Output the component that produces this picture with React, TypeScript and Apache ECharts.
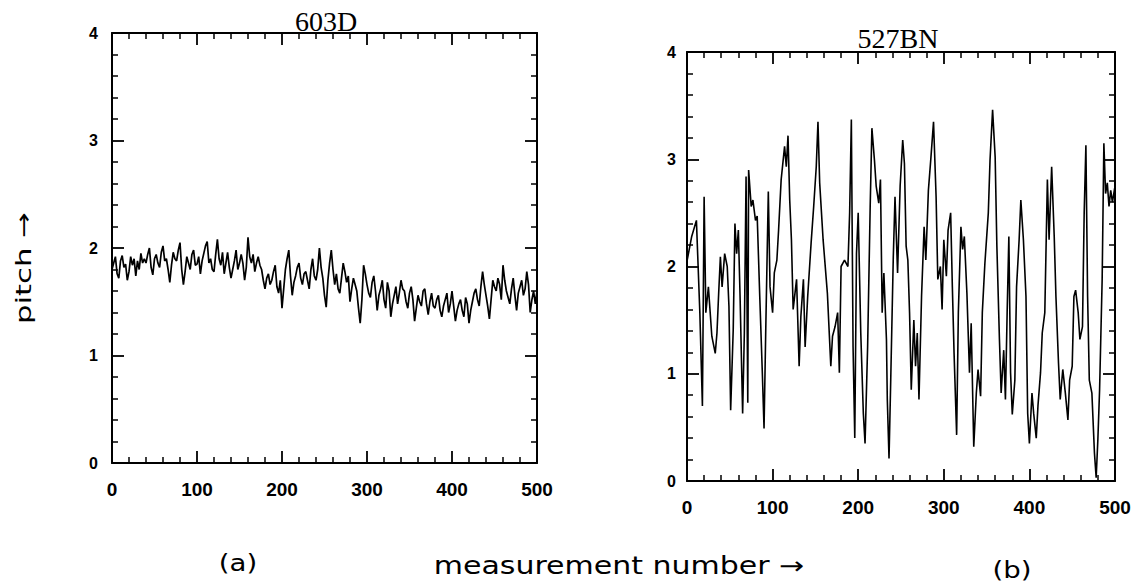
import React, { useEffect, useRef } from "react";
import * as echarts from "echarts";

// ---- Data ----
const leftTitle = "603D";
const rightTitle = "527BN";
const xTickMax = 500;
const yTickMax = 4;

// Panel (a) 603D: pitch sampled every 2nd measurement (0..500)
const leftStep = 2;
const leftPitch = [
  1.80, 1.86, 1.92, 1.76, 1.72, 1.88, 1.93, 1.82, 1.85, 1.70,
  1.78, 1.92, 1.84, 1.90, 1.74, 1.88, 1.80, 1.95, 1.86, 1.90,
  1.86, 1.94, 2.00, 1.82, 1.75, 1.90, 1.94, 1.86, 1.82, 1.96,
  2.02, 1.88, 1.90, 1.80, 1.68, 1.84, 1.96, 1.90, 1.88, 1.98,
  2.05, 1.80, 1.66, 1.78, 1.92, 1.86, 1.80, 1.94, 1.98, 1.84,
  1.85, 1.92, 1.76, 1.88, 1.95, 2.02, 2.06, 1.86, 1.90, 1.80,
  1.78, 1.94, 2.08, 1.90, 1.84, 1.96, 1.76, 1.86, 1.96, 1.82,
  1.72, 1.80, 1.88, 1.98, 1.80, 1.86, 1.94, 1.86, 1.70, 1.82,
  2.10, 1.92, 1.86, 1.94, 1.78, 1.86, 1.92, 1.84, 1.80, 1.70,
  1.62, 1.72, 1.76, 1.66, 1.70, 1.78, 1.84, 1.64, 1.58, 1.70,
  1.44, 1.62, 1.80, 1.90, 1.98, 1.74, 1.56, 1.68, 1.74, 1.82,
  1.86, 1.72, 1.66, 1.76, 1.78, 1.70, 1.62, 1.80, 1.90, 1.74,
  1.70, 1.80, 2.00, 1.82, 1.72, 1.56, 1.45, 1.70, 1.86, 1.98,
  1.80, 1.66, 1.76, 1.62, 1.58, 1.72, 1.86, 1.78, 1.68, 1.74,
  1.50, 1.62, 1.72, 1.66, 1.60, 1.44, 1.30, 1.52, 1.84, 1.76,
  1.66, 1.58, 1.54, 1.68, 1.74, 1.60, 1.42, 1.56, 1.62, 1.70,
  1.52, 1.44, 1.68, 1.60, 1.36, 1.48, 1.56, 1.64, 1.48, 1.58,
  1.70, 1.62, 1.60, 1.50, 1.44, 1.58, 1.64, 1.52, 1.32, 1.44,
  1.56, 1.50, 1.46, 1.60, 1.62, 1.48, 1.38, 1.50, 1.58, 1.46,
  1.44, 1.52, 1.56, 1.42, 1.36, 1.46, 1.52, 1.58, 1.40, 1.48,
  1.60, 1.46, 1.32, 1.42, 1.48, 1.52, 1.42, 1.36, 1.54, 1.48,
  1.30, 1.42, 1.50, 1.58, 1.62, 1.52, 1.46, 1.64, 1.78, 1.66,
  1.56, 1.46, 1.34, 1.52, 1.70, 1.64, 1.60, 1.72, 1.66, 1.52,
  1.84, 1.70, 1.60, 1.54, 1.48, 1.62, 1.72, 1.56, 1.42, 1.58,
  1.64, 1.70, 1.56, 1.62, 1.78, 1.66, 1.40, 1.52, 1.60, 1.48,
  1.60,
];

// Panel (b) 527BN: measurement numbers and pitch values
const rightIndex = [
  0, 5.5, 11, 15, 18, 20, 22, 25, 29, 33, 35, 37, 39, 41, 44, 47, 49, 51, 54, 56,
  58, 60, 62, 65, 67, 69, 71, 72, 75, 77, 80, 82, 85, 88, 90, 92, 95, 97, 100, 102,
  105, 107, 110, 114, 116, 118, 120, 122, 124, 128, 131, 133, 136, 138, 141, 145, 148, 151, 153, 155,
  159, 164, 168, 170, 173, 176, 178, 180, 184, 188, 190, 192, 194, 196, 198, 200, 203, 206, 208, 211,
  214, 216, 219, 221, 224, 226, 228, 230, 233, 234, 236, 238, 241, 243, 246, 249, 252, 254, 256, 258,
  260, 262, 265, 267, 269, 271, 274, 277, 279, 282, 285, 288, 291, 293, 296, 298, 300, 303, 305, 308,
  310, 312, 315, 317, 320, 322, 324, 327, 330, 332, 335, 338, 340, 343, 345, 348, 352, 354, 357, 360,
  362, 365, 367, 370, 372, 374, 376, 378, 380, 383, 385, 388, 390, 393, 396, 398, 400, 403, 405, 408,
  410, 413, 415, 418, 421, 423, 426, 429, 431, 434, 436, 439, 442, 445, 447, 450, 452, 454, 457, 459,
  462, 464, 466, 468, 470, 473, 476, 478, 480, 482, 485, 487, 489, 491, 493, 495, 497, 500,
];
const rightPitch = [
  2.05, 2.28, 2.43, 1.57, 0.70, 2.65, 1.57, 1.81, 1.35, 1.19, 1.38, 1.75, 2.09, 1.81, 2.12, 2.00, 1.63, 0.66, 1.41, 2.40,
  2.12, 2.34, 1.72, 0.63, 1.38, 2.84, 0.73, 2.90, 2.56, 2.62, 2.43, 2.47, 1.72, 1.01, 0.49, 1.41, 2.70, 1.81, 1.57, 1.94,
  2.06, 2.34, 2.81, 3.12, 2.93, 3.22, 2.62, 2.25, 1.60, 1.88, 1.07, 1.53, 1.88, 1.25, 1.72, 2.22, 2.56, 2.93, 3.35, 2.78,
  2.25, 1.75, 1.07, 1.35, 1.44, 1.57, 1.01, 2.00, 2.06, 2.00, 2.50, 3.37, 1.25, 0.40, 2.12, 2.50, 1.38, 0.63, 0.35, 1.25,
  2.56, 3.29, 2.99, 2.75, 2.59, 2.81, 1.57, 1.94, 1.32, 0.76, 0.21, 0.94, 2.09, 2.65, 1.94, 2.75, 3.18, 2.96, 2.19, 2.06,
  1.57, 0.85, 1.50, 1.07, 1.38, 0.76, 1.72, 2.37, 2.06, 2.71, 3.02, 3.35, 2.65, 1.88, 2.00, 1.60, 2.25, 1.91, 2.34, 2.50,
  1.81, 1.19, 0.43, 1.57, 2.37, 2.16, 2.28, 1.75, 1.01, 1.47, 0.32, 0.82, 1.04, 0.79, 1.57, 2.03, 2.50, 2.99, 3.46, 3.02,
  2.19, 1.32, 0.82, 1.22, 0.76, 1.57, 2.28, 1.01, 0.62, 0.94, 1.81, 2.25, 2.62, 2.25, 1.72, 0.63, 0.35, 0.82, 0.63, 0.40,
  0.70, 1.01, 1.38, 1.57, 2.81, 2.25, 2.93, 2.28, 1.72, 1.10, 0.76, 1.04, 0.82, 0.57, 0.94, 1.07, 1.72, 1.78, 1.57, 1.32,
  1.44, 2.50, 3.13, 1.72, 0.94, 0.82, 0.26, 0.03, 0.39, 0.85, 1.88, 3.15, 2.68, 2.78, 2.56, 2.71, 2.60, 2.75,
];

const BLACK = "#000";

function xAxis(gridIndex: number, position: "bottom" | "top", labels: boolean) {
  return {
    type: "value",
    gridIndex,
    position,
    min: 0,
    max: xTickMax,
    interval: 100,
    axisLine: { show: true, onZero: false, lineStyle: { color: BLACK, width: 2 } },
    axisTick: { show: true, inside: true, length: 12, lineStyle: { color: BLACK, width: 1.8 } },
    minorTick: { show: true, splitNumber: 5, length: 6, lineStyle: { color: BLACK, width: 1.5 } },
    splitLine: { show: false },
    minorSplitLine: { show: false },
    axisLabel: {
      show: labels,
      margin: 17,
      color: BLACK,
      fontFamily: "Liberation Sans",
      fontWeight: "bold",
      fontSize: 19,
    },
  };
}

function yAxis(gridIndex: number, position: "left" | "right", labels: boolean, margin: number) {
  return {
    type: "value",
    gridIndex,
    position,
    min: 0,
    max: yTickMax,
    interval: 1,
    axisLine: { show: true, onZero: false, lineStyle: { color: BLACK, width: 2 } },
    axisTick: { show: true, inside: true, length: 12, lineStyle: { color: BLACK, width: 1.8 } },
    minorTick: { show: true, splitNumber: 5, length: 6, lineStyle: { color: BLACK, width: 1.5 } },
    splitLine: { show: false },
    minorSplitLine: { show: false },
    axisLabel: {
      show: labels,
      margin,
      color: BLACK,
      fontFamily: "Liberation Sans",
      fontWeight: "bold",
      fontSize: 16,
    },
  };
}

export default function App() {
  const ref = useRef<HTMLDivElement>(null);

  useEffect(() => {
    if (!ref.current) return;
    const chart = echarts.init(ref.current, undefined, { renderer: "svg" });

    const leftData = leftPitch.map((v, i) => [i * leftStep, v]);
    const rightData = rightPitch.map((v, i) => [rightIndex[i], v]);

    const option: any = {
      animation: false,
      backgroundColor: "#fff",
      grid: [
        { left: 112, top: 33, width: 425, height: 430 },
        { left: 687, top: 52, width: 428, height: 429 },
      ],
      xAxis: [
        xAxis(0, "bottom", true),
        xAxis(0, "top", false),
        xAxis(1, "bottom", true),
        xAxis(1, "top", false),
      ],
      yAxis: [
        yAxis(0, "left", true, 14),
        yAxis(0, "right", false, 8),
        yAxis(1, "left", true, 11),
        yAxis(1, "right", false, 8),
      ],
      series: [
        {
          type: "line",
          name: leftTitle,
          xAxisIndex: 0,
          yAxisIndex: 0,
          data: leftData,
          showSymbol: false,
          lineStyle: { color: BLACK, width: 1.7 },
          silent: true,
        },
        {
          type: "line",
          name: rightTitle,
          xAxisIndex: 2,
          yAxisIndex: 2,
          data: rightData,
          showSymbol: false,
          lineStyle: { color: BLACK, width: 1.6 },
          silent: true,
        },
      ],
      graphic: [
        {
          type: "text",
          x: 326,
          y: 21,
          style: { text: leftTitle, fontSize: 28, fontFamily: "Liberation Serif", fill: BLACK, align: "center", verticalAlign: "middle" },
        },
        {
          type: "text",
          x: 898,
          y: 38,
          style: { text: rightTitle, fontSize: 28, fontFamily: "Liberation Serif", fill: BLACK, align: "center", verticalAlign: "middle" },
        },
        {
          type: "text",
          x: 23,
          y: 268,
          rotation: Math.PI / 2,
          scaleX: 1.4,
          style: { text: "pitch →", fontSize: 22, fontFamily: "DejaVu Sans", fill: BLACK, align: "center", verticalAlign: "middle" },
        },
        {
          type: "text",
          x: 619,
          y: 566,
          scaleX: 1.25,
          style: { text: "measurement number →", fontSize: 24, fontFamily: "DejaVu Sans", fill: BLACK, align: "center", verticalAlign: "middle" },
        },
        {
          type: "text",
          x: 238,
          y: 563,
          scaleX: 1.2,
          style: { text: "(a)", fontSize: 23, fontFamily: "DejaVu Sans", fill: BLACK, align: "center", verticalAlign: "middle" },
        },
        {
          type: "text",
          x: 1012,
          y: 570,
          scaleX: 1.2,
          style: { text: "(b)", fontSize: 23, fontFamily: "DejaVu Sans", fill: BLACK, align: "center", verticalAlign: "middle" },
        },
      ],
    };

    chart.setOption(option);
    return () => chart.dispose();
  }, []);

  return (
    <div
      ref={ref}
      style={{ position: "absolute", left: 0, top: 0, width: 1138, height: 585, background: "#fff" }}
    />
  );
}
